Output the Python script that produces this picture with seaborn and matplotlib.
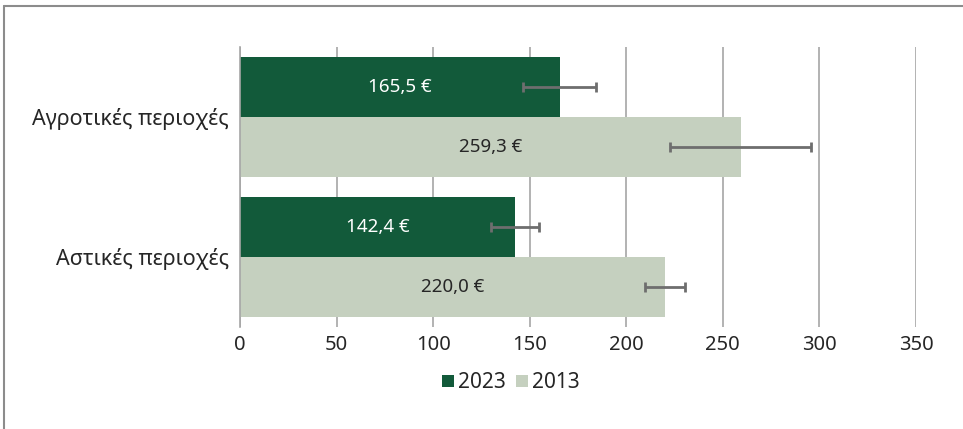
import numpy as np
import pandas as pd
import matplotlib.pyplot as plt
import seaborn as sns
from matplotlib.lines import Line2D
from matplotlib.patches import Patch

sns.set_theme(style="white")
plt.rcParams['font.family'] = ['Noto Sans', 'DejaVu Sans']

# data
regions = ['Αγροτικές περιοχές', 'Αστικές περιοχές']
years = ['2023', '2013']
values_2023 = [165.5, 142.4]
values_2013 = [259.3, 220.0]
err_2023 = [19.0, 12.2]
err_2013 = [36.5, 10.5]
xticks = [0, 50, 100, 150, 200, 250, 300, 350]

colors = {'2023': '#125A3A', '2013': '#C5D0BF'}
text_dark = '#262626'

df = pd.DataFrame({
    'region': regions * 2,
    'year': ['2023'] * 2 + ['2013'] * 2,
    'value': values_2023 + values_2013,
})
errs = {'2023': err_2023, '2013': err_2013}

fig = plt.figure(figsize=(9.63, 4.29), dpi=100)
ax = fig.add_axes([240 / 963, 1 - 327 / 429, 676 / 963, 280 / 429])

sns.barplot(data=df, y='region', x='value', hue='year', hue_order=years,
            order=regions, palette=colors, saturation=1, width=0.857, orient='h',
            errorbar=None, legend=False, ax=ax, zorder=2, linewidth=0)

# error bars and value labels
for year, cont in zip(years, ax.containers):
    ys = [b.get_y() + b.get_height() / 2 for b in cont]
    vals = [b.get_width() for b in cont]
    ax.errorbar(vals, ys, xerr=errs[year], fmt='none', ecolor='#6E6E6E',
                elinewidth=2, capsize=3.5, capthick=2, zorder=3)
    labels = [f"{v:.1f}".replace('.', ',') + ' €' for v in vals]
    ax.bar_label(cont, labels=labels, label_type='center', fontsize=13.5,
                 color='white' if year == '2023' else text_dark)

ax.set_xlim(0, 350)
ax.set_ylim(1.5, -0.5)
ax.set_xticks(xticks)
ax.grid(axis='x', color='#A6A6A6', linewidth=1.2, zorder=0)
ax.set_axisbelow(True)
for s in ['top', 'right', 'bottom']:
    ax.spines[s].set_visible(False)
ax.spines['left'].set_color('#A6A6A6')
ax.spines['left'].set_linewidth(1.2)
ax.tick_params(axis='both', length=0, colors=text_dark)
ax.tick_params(axis='y', pad=8, labelsize=15.5)
ax.tick_params(axis='x', pad=6, labelsize=14.5)
ax.set_xlabel('')
ax.set_ylabel('')

handles = [Patch(facecolor=colors[y], edgecolor='none') for y in years]
fig.legend(handles, years, loc='center', bbox_to_anchor=(511 / 963, 1 - 383 / 429),
           ncol=2, frameon=False, fontsize=15, handlelength=0.55, handleheight=0.55,
           handletextpad=0.2, columnspacing=0.5, labelcolor=text_dark)

# outer frame (left and top only, as in the source)
fig.add_artist(Line2D([4 / 963, 4 / 963], [0, 1 - 6 / 429], color='#8C8C8C', lw=1.5))
fig.add_artist(Line2D([4 / 963, 1], [1 - 6 / 429, 1 - 6 / 429], color='#8C8C8C', lw=1.5))

fig.savefig('out.png', dpi=100)
